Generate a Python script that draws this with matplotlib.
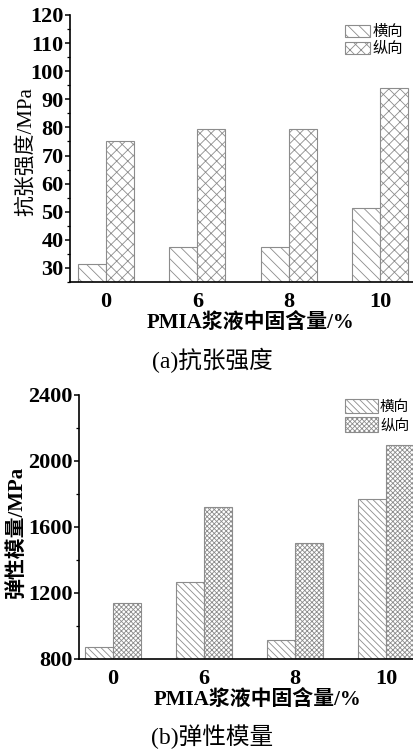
import numpy as np
import matplotlib
matplotlib.use("Agg")
import matplotlib.pyplot as plt
from matplotlib.ticker import MultipleLocator

# data
categories = ['0', '6', '8', '10']
series_names = ['横向', '纵向']
strength_transverse = [31.3, 37.3, 37.3, 51.2]
strength_longitudinal = [75.3, 79.4, 79.4, 94.2]
modulus_transverse = [873, 1268, 915, 1770]
modulus_longitudinal = [1142, 1720, 1505, 2095]

plt.rcParams['font.family'] = ['Liberation Serif', 'Noto Sans CJK SC', 'DejaVu Sans']
plt.rcParams['hatch.color'] = '#6e6e6e'
plt.rcParams['hatch.linewidth'] = 0.6

W, H = 413, 749
fig = plt.figure(figsize=(W/100, H/100), dpi=100)

ax1 = fig.add_axes([70/W, 1-282/H, 343/W, 267/H])
ax2 = fig.add_axes([79/W, 1-659/H, 334/W, 264/H])


def draw_panel(ax, left_vals, right_vals, hatches, ylim, xlim, w, major, minor,
               ylabel, ylab_weight, ylab_xy, xlab_xy, leg_top, handlelength,
               handleheight, leg_fs):
    x = np.arange(len(categories))
    ax.bar(x - w/2, left_vals, w, facecolor='white', edgecolor='#8c8c8c',
           linewidth=0.8, hatch=hatches[0], label=series_names[0])
    ax.bar(x + w/2, right_vals, w, facecolor='white', edgecolor='#8c8c8c',
           linewidth=0.8, hatch=hatches[1], label=series_names[1])
    ax.set_ylim(*ylim)
    ax.set_xlim(*xlim)
    ax.yaxis.set_major_locator(MultipleLocator(major))
    ax.yaxis.set_minor_locator(MultipleLocator(minor))
    ax.set_xticks(x)
    ax.set_xticklabels(categories)
    for s in ['top', 'right']:
        ax.spines[s].set_visible(False)
    for s in ['left', 'bottom']:
        ax.spines[s].set_linewidth(1.2)
    ax.tick_params(axis='y', which='major', direction='out', length=3.5, width=1.1,
                   labelsize=16, pad=1)
    ax.tick_params(axis='y', which='minor', direction='out', length=2, width=0.9)
    ax.tick_params(axis='x', length=0, labelsize=16, pad=7)
    for lab in ax.get_xticklabels() + ax.get_yticklabels():
        lab.set_fontweight('bold')
    ax.set_xlabel('PMIA浆液中固含量/%', fontsize=15, fontweight='bold', va='center')
    ax.xaxis.set_label_coords(*xlab_xy)
    ax.set_ylabel(ylabel, fontsize=15, fontweight=ylab_weight, va='center')
    ax.yaxis.set_label_coords(*ylab_xy)
    ax.legend(loc='upper left', bbox_to_anchor=(345/W, 1-leg_top/H),
              bbox_transform=fig.transFigure, frameon=False, fontsize=leg_fs,
              handlelength=handlelength, handleheight=handleheight, handletextpad=0.15,
              labelspacing=0.2, borderaxespad=0, borderpad=0)


draw_panel(ax1, strength_transverse, strength_longitudinal, ['\\\\\\', 'xxx'],
           (25, 120), (-0.394, 3.36), 0.307, 10, 5, '抗张强度/MPa', 'normal',
           (-0.125, 0.487), (0.525, -0.154), 25, 1.65, 0.8, 11)
draw_panel(ax2, modulus_transverse, modulus_longitudinal, ['\\\\\\\\\\', 'xxxxxxx'],
           (800, 2400), (-0.374, 3.297), 0.31, 400, 200, '弹性模量/MPa', 'bold',
           (-0.185, 0.48), (0.533, -0.155), 399, 2.25, 1.15, 10.5)

fig.text(212/W, 1-360/H, '(a)抗张强度', ha='center', va='center', fontsize=17)
fig.text(212/W, 1-737/H, '(b)弹性模量', ha='center', va='center', fontsize=17)

fig.savefig('out.png', dpi=100)
